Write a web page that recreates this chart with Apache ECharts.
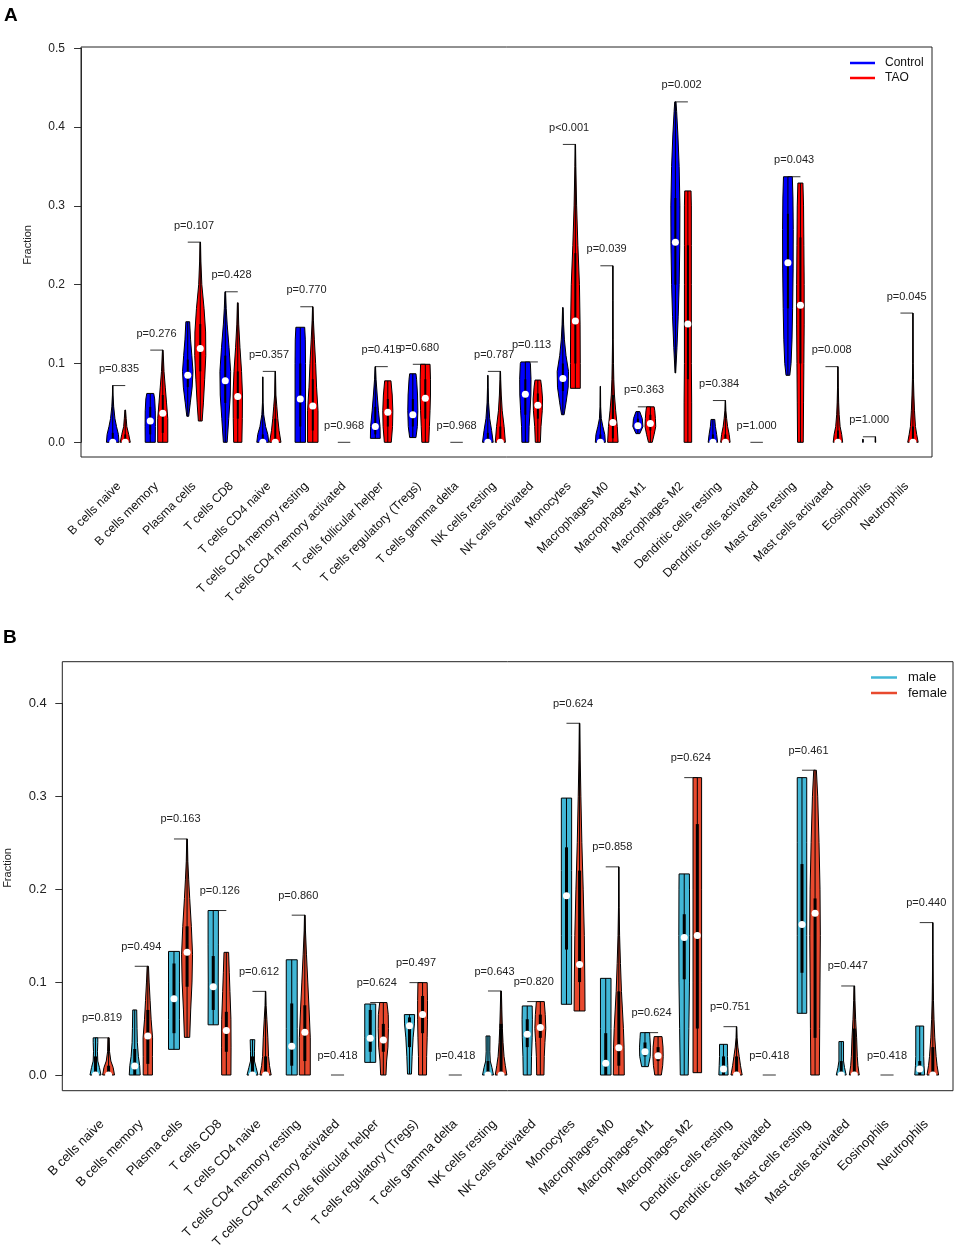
<!DOCTYPE html>
<html>
<head>
<meta charset="utf-8">
<script src="https://cdn.jsdelivr.net/npm/echarts@6/dist/echarts.min.js"></script>
<style>
  html, body { margin: 0; padding: 0; background: #fff; }
  #chart { width: 955px; height: 1248px; }
</style>
</head>
<body>
<div id="chart"></div>
<script>
var cellTypes = ['B cells naive', 'B cells memory', 'Plasma cells', 'T cells CD8', 'T cells CD4 naive',
    'T cells CD4 memory resting', 'T cells CD4 memory activated', 'T cells follicular helper',
    'T cells regulatory (Tregs)', 'T cells gamma delta', 'NK cells resting', 'NK cells activated',
    'Monocytes', 'Macrophages M0', 'Macrophages M1', 'Macrophages M2', 'Dendritic cells resting',
    'Dendritic cells activated', 'Mast cells resting', 'Mast cells activated', 'Eosinophils', 'Neutrophils'];

// panel A : p values
var pValuesA = ['p=0.835', 'p=0.276', 'p=0.107', 'p=0.428', 'p=0.357', 'p=0.770', 'p=0.968', 'p=0.415',
    'p=0.680', 'p=0.968', 'p=0.787', 'p=0.113', 'p<0.001', 'p=0.039', 'p=0.363', 'p=0.002', 'p=0.384',
    'p=1.000', 'p=0.043', 'p=0.008', 'p=1.000', 'p=0.045'];

// [min, q1, median, q3, max]
var controlStats = [
    [0, 0, 0, 0.012, 0.072], [0, 0.01, 0.027, 0.045, 0.062], [0.033, 0.07, 0.085, 0.105, 0.153],
    [0, 0.05, 0.078, 0.11, 0.191], [0, 0, 0, 0.01, 0.083], [0, 0.02, 0.055, 0.1, 0.146],
    [0, 0, 0, 0, 0], [0.005, 0.01, 0.02, 0.045, 0.096], [0.006, 0.02, 0.035, 0.055, 0.087],
    [0, 0, 0, 0, 0], [0, 0, 0, 0.012, 0.085], [0, 0.035, 0.061, 0.08, 0.102],
    [0.035, 0.065, 0.081, 0.1, 0.171], [0, 0, 0, 0.01, 0.071], [0.011, 0.016, 0.021, 0.03, 0.039],
    [0.088, 0.2, 0.254, 0.31, 0.432], [0, 0, 0, 0.01, 0.029], [0, 0, 0, 0, 0],
    [0.085, 0.17, 0.228, 0.29, 0.337], [0, 0, 0, 0, 0], [0, 0, 0, 0, 0.004], [0, 0, 0, 0, 0]
];
var taoStats = [
    [0, 0, 0, 0.01, 0.041], [0, 0.012, 0.037, 0.06, 0.117], [0.027, 0.09, 0.119, 0.15, 0.254],
    [0, 0.03, 0.058, 0.09, 0.177], [0, 0, 0, 0.03, 0.09], [0, 0.015, 0.046, 0.08, 0.172],
    [0, 0, 0, 0, 0], [0, 0.02, 0.038, 0.055, 0.078], [0, 0.03, 0.056, 0.08, 0.099],
    [0, 0, 0, 0, 0], [0, 0, 0, 0.02, 0.09], [0, 0.03, 0.047, 0.062, 0.079],
    [0.0685, 0.1, 0.154, 0.24, 0.378], [0, 0.005, 0.025, 0.06, 0.224], [0, 0.015, 0.024, 0.035, 0.045],
    [0, 0.08, 0.15, 0.25, 0.319], [0, 0, 0, 0.01, 0.053], [0, 0, 0, 0, 0],
    [0, 0.1, 0.174, 0.26, 0.329], [0, 0, 0, 0.015, 0.096], [0, 0, 0, 0, 0.007], [0, 0, 0, 0.02, 0.164]
];

// violin outlines: [value, relative width]
var controlShape = [
    [[0, 1.0], [0.01, 0.9], [0.02, 0.6], [0.03, 0.35], [0.045, 0.15], [0.06, 0.05], [0.072, 0.02]],
    [[0, 0.8], [0.02, 0.82], [0.04, 0.8], [0.055, 0.7], [0.062, 0.55]],
    [[0.033, 0.15], [0.05, 0.4], [0.07, 0.7], [0.09, 0.83], [0.11, 0.65], [0.13, 0.45], [0.153, 0.3]],
    [[0, 0.3], [0.03, 0.55], [0.06, 0.8], [0.09, 0.85], [0.12, 0.6], [0.15, 0.3], [0.17, 0.15], [0.191, 0.05]],
    [[0, 0.95], [0.01, 0.8], [0.02, 0.45], [0.035, 0.15], [0.05, 0.05], [0.083, 0.02]],
    [[0, 0.83], [0.05, 0.83], [0.1, 0.83], [0.13, 0.8], [0.146, 0.7]],
    [],
    [[0.005, 0.78], [0.02, 0.75], [0.04, 0.5], [0.06, 0.3], [0.08, 0.12], [0.096, 0.04]],
    [[0.006, 0.5], [0.02, 0.72], [0.04, 0.8], [0.06, 0.75], [0.08, 0.6], [0.087, 0.5]],
    [],
    [[0, 0.85], [0.015, 0.6], [0.03, 0.3], [0.05, 0.12], [0.07, 0.05], [0.085, 0.02]],
    [[0, 0.55], [0.02, 0.6], [0.04, 0.75], [0.06, 0.88], [0.08, 0.9], [0.1, 0.8], [0.102, 0.7]],
    [[0.035, 0.2], [0.05, 0.5], [0.07, 0.85], [0.09, 0.9], [0.11, 0.5], [0.13, 0.25], [0.15, 0.12], [0.171, 0.04]],
    [[0, 0.8], [0.01, 0.7], [0.02, 0.4], [0.03, 0.15], [0.045, 0.05], [0.071, 0.02]],
    [[0.011, 0.3], [0.02, 0.8], [0.03, 0.7], [0.039, 0.3]],
    [[0.088, 0.05], [0.12, 0.25], [0.16, 0.45], [0.2, 0.6], [0.25, 0.7], [0.3, 0.72], [0.35, 0.6], [0.39, 0.4], [0.42, 0.2], [0.432, 0.1]],
    [[0, 0.75], [0.01, 0.6], [0.02, 0.4], [0.029, 0.3]],
    [],
    [[0.085, 0.3], [0.1, 0.5], [0.13, 0.65], [0.17, 0.75], [0.22, 0.83], [0.27, 0.85], [0.31, 0.8], [0.337, 0.7]],
    [],
    [[0, 0.05], [0.004, 0.02]],
    []
];
var taoShape = [
    [[0, 0.8], [0.01, 0.55], [0.02, 0.25], [0.03, 0.15], [0.041, 0.05]],
    [[0, 0.8], [0.03, 0.8], [0.05, 0.6], [0.07, 0.4], [0.09, 0.2], [0.117, 0.05]],
    [[0.027, 0.3], [0.05, 0.5], [0.08, 0.7], [0.11, 0.88], [0.14, 0.85], [0.17, 0.6], [0.2, 0.25], [0.23, 0.1], [0.254, 0.04]],
    [[0, 0.65], [0.03, 0.72], [0.06, 0.75], [0.09, 0.6], [0.12, 0.35], [0.15, 0.15], [0.177, 0.06]],
    [[0, 0.9], [0.015, 0.6], [0.03, 0.4], [0.045, 0.25], [0.06, 0.1], [0.09, 0.03]],
    [[0, 0.83], [0.04, 0.83], [0.07, 0.6], [0.1, 0.45], [0.13, 0.25], [0.155, 0.1], [0.172, 0.04]],
    [],
    [[0, 0.55], [0.02, 0.75], [0.04, 0.8], [0.06, 0.7], [0.078, 0.5]],
    [[0, 0.55], [0.02, 0.65], [0.04, 0.75], [0.06, 0.82], [0.08, 0.82], [0.099, 0.75]],
    [],
    [[0, 0.8], [0.02, 0.6], [0.04, 0.3], [0.06, 0.15], [0.08, 0.06], [0.09, 0.03]],
    [[0, 0.4], [0.02, 0.5], [0.04, 0.7], [0.055, 0.75], [0.07, 0.6], [0.079, 0.45]],
    [[0.0685, 0.78], [0.1, 0.78], [0.15, 0.75], [0.2, 0.65], [0.25, 0.4], [0.3, 0.2], [0.35, 0.08], [0.378, 0.03]],
    [[0, 0.83], [0.02, 0.7], [0.04, 0.45], [0.06, 0.25], [0.08, 0.15], [0.1, 0.1], [0.13, 0.05], [0.18, 0.02], [0.224, 0.01]],
    [[0, 0.3], [0.01, 0.6], [0.02, 0.85], [0.03, 0.8], [0.04, 0.7], [0.045, 0.6]],
    [[0, 0.6], [0.05, 0.6], [0.1, 0.55], [0.15, 0.55], [0.2, 0.55], [0.25, 0.55], [0.3, 0.55], [0.319, 0.5]],
    [[0, 0.75], [0.01, 0.6], [0.02, 0.35], [0.03, 0.2], [0.04, 0.08], [0.053, 0.02]],
    [],
    [[0, 0.45], [0.05, 0.5], [0.1, 0.55], [0.15, 0.6], [0.2, 0.6], [0.25, 0.55], [0.3, 0.5], [0.329, 0.4]],
    [[0, 0.75], [0.01, 0.6], [0.02, 0.35], [0.035, 0.2], [0.05, 0.12], [0.07, 0.06], [0.096, 0.02]],
    [[0, 0.05], [0.007, 0.02]],
    [[0, 0.83], [0.01, 0.6], [0.02, 0.4], [0.04, 0.25], [0.06, 0.15], [0.08, 0.08], [0.1, 0.04], [0.164, 0.01]]
];

// panel B
var pValuesB = ['p=0.819', 'p=0.494', 'p=0.163', 'p=0.126', 'p=0.612', 'p=0.860', 'p=0.418', 'p=0.624',
    'p=0.497', 'p=0.418', 'p=0.643', 'p=0.820', 'p=0.624', 'p=0.858', 'p=0.624', 'p=0.624', 'p=0.751',
    'p=0.418', 'p=0.461', 'p=0.447', 'p=0.418', 'p=0.440'];

var maleStats = [
    [0, 0, 0, 0.02, 0.040], [0, 0, 0.0097, 0.028, 0.070], [0.0276, 0.045, 0.082, 0.12, 0.133],
    [0.054, 0.07, 0.095, 0.128, 0.177], [0, 0, 0, 0.02, 0.038], [0, 0.01, 0.031, 0.077, 0.124],
    [0, 0, 0, 0, 0], [0.0136, 0.025, 0.0395, 0.07, 0.0764], [0.001, 0.03, 0.053, 0.062, 0.065],
    [0, 0, 0, 0, 0], [0, 0, 0, 0.015, 0.042], [0, 0.03, 0.0438, 0.06, 0.0743],
    [0.0761, 0.135, 0.193, 0.245, 0.298], [0, 0, 0.0126, 0.045, 0.104], [0.009, 0.02, 0.025, 0.035, 0.0456],
    [0, 0.103, 0.148, 0.173, 0.2164], [0, 0, 0.0065, 0.02, 0.033], [0, 0, 0, 0, 0],
    [0.0664, 0.11, 0.162, 0.227, 0.32], [0, 0, 0, 0.015, 0.036], [0, 0, 0, 0, 0], [0, 0, 0.0065, 0.015, 0.0527]
];
var femaleStats = [
    [0, 0, 0, 0.01, 0.040], [0, 0.012, 0.042, 0.07, 0.117], [0.0405, 0.095, 0.132, 0.16, 0.254],
    [0, 0.025, 0.048, 0.068, 0.132], [0, 0, 0, 0.02, 0.09], [0, 0.015, 0.046, 0.075, 0.172],
    [0, 0, 0, 0, 0], [0, 0.025, 0.0377, 0.055, 0.078], [0, 0.045, 0.065, 0.085, 0.0994],
    [0, 0, 0, 0, 0], [0, 0, 0, 0.055, 0.0904], [0, 0.04, 0.051, 0.065, 0.079],
    [0.0689, 0.1, 0.119, 0.22, 0.3785], [0, 0.01, 0.0294, 0.09, 0.224], [0, 0.015, 0.0208, 0.03, 0.0413],
    [0.0025, 0.05, 0.15, 0.27, 0.32], [0, 0, 0, 0.02, 0.052], [0, 0, 0, 0, 0],
    [0, 0.04, 0.174, 0.19, 0.328], [0, 0, 0, 0.05, 0.0958], [0, 0, 0, 0, 0], [0, 0, 0, 0.03, 0.164]
];

var maleShape = [
    [[0, 0.83], [0.008, 0.6], [0.015, 0.35], [0.025, 0.3], [0.035, 0.35], [0.04, 0.35]],
    [[0, 0.83], [0.01, 0.75], [0.02, 0.55], [0.035, 0.4], [0.05, 0.35], [0.07, 0.3]],
    [[0.0276, 0.83], [0.06, 0.83], [0.1, 0.83], [0.133, 0.83]],
    [[0.054, 0.78], [0.1, 0.76], [0.14, 0.78], [0.177, 0.78]],
    [[0, 0.83], [0.008, 0.55], [0.015, 0.3], [0.025, 0.3], [0.038, 0.35]],
    [[0, 0.83], [0.05, 0.83], [0.1, 0.83], [0.124, 0.83]],
    [],
    [[0.0136, 0.83], [0.04, 0.83], [0.0764, 0.83]],
    [[0.001, 0.3], [0.02, 0.4], [0.04, 0.55], [0.055, 0.75], [0.065, 0.78]],
    [],
    [[0, 0.83], [0.008, 0.6], [0.015, 0.35], [0.025, 0.28], [0.042, 0.3]],
    [[0, 0.6], [0.02, 0.65], [0.04, 0.75], [0.06, 0.78], [0.0743, 0.75]],
    [[0.0761, 0.78], [0.15, 0.78], [0.22, 0.78], [0.298, 0.78]],
    [[0, 0.8], [0.05, 0.8], [0.104, 0.8]],
    [[0.009, 0.5], [0.02, 0.8], [0.03, 0.83], [0.04, 0.75], [0.0456, 0.7]],
    [[0, 0.6], [0.05, 0.7], [0.1, 0.8], [0.15, 0.82], [0.2, 0.8], [0.2164, 0.78]],
    [[0, 0.7], [0.01, 0.65], [0.02, 0.6], [0.033, 0.6]],
    [],
    [[0.0664, 0.72], [0.15, 0.72], [0.25, 0.72], [0.32, 0.72]],
    [[0, 0.75], [0.008, 0.5], [0.015, 0.35], [0.036, 0.35]],
    [],
    [[0, 0.75], [0.01, 0.65], [0.02, 0.6], [0.0527, 0.6]]
];
var femaleShape = [
    [[0, 0.9], [0.008, 0.7], [0.015, 0.35], [0.025, 0.15], [0.04, 0.1]],
    [[0, 0.7], [0.02, 0.7], [0.04, 0.72], [0.06, 0.5], [0.08, 0.35], [0.1, 0.2], [0.117, 0.1]],
    [[0.0405, 0.4], [0.07, 0.55], [0.1, 0.75], [0.13, 0.83], [0.16, 0.65], [0.19, 0.4], [0.21, 0.25], [0.23, 0.12], [0.254, 0.05]],
    [[0, 0.7], [0.03, 0.72], [0.06, 0.7], [0.09, 0.55], [0.11, 0.45], [0.132, 0.35]],
    [[0, 0.85], [0.01, 0.6], [0.02, 0.45], [0.04, 0.35], [0.06, 0.2], [0.075, 0.08], [0.09, 0.03]],
    [[0, 0.83], [0.04, 0.83], [0.07, 0.65], [0.1, 0.45], [0.13, 0.25], [0.155, 0.1], [0.172, 0.05]],
    [],
    [[0, 0.4], [0.015, 0.5], [0.03, 0.7], [0.05, 0.78], [0.065, 0.75], [0.078, 0.55]],
    [[0, 0.6], [0.02, 0.62], [0.04, 0.7], [0.06, 0.75], [0.08, 0.75], [0.0994, 0.7]],
    [],
    [[0, 0.88], [0.01, 0.65], [0.02, 0.45], [0.035, 0.3], [0.05, 0.2], [0.07, 0.12], [0.0904, 0.05]],
    [[0, 0.55], [0.02, 0.6], [0.035, 0.7], [0.05, 0.83], [0.065, 0.75], [0.079, 0.6]],
    [[0.0689, 0.83], [0.1, 0.8], [0.15, 0.72], [0.2, 0.55], [0.25, 0.35], [0.3, 0.2], [0.34, 0.1], [0.3785, 0.04]],
    [[0, 0.83], [0.03, 0.8], [0.05, 0.7], [0.07, 0.55], [0.09, 0.4], [0.12, 0.25], [0.15, 0.12], [0.18, 0.05], [0.224, 0.02]],
    [[0, 0.5], [0.01, 0.7], [0.02, 0.78], [0.03, 0.75], [0.0413, 0.6]],
    [[0.0025, 0.65], [0.1, 0.65], [0.2, 0.65], [0.32, 0.65]],
    [[0, 0.85], [0.01, 0.6], [0.02, 0.4], [0.03, 0.2], [0.04, 0.08], [0.052, 0.03]],
    [],
    [[0, 0.65], [0.05, 0.7], [0.1, 0.75], [0.15, 0.8], [0.2, 0.75], [0.25, 0.6], [0.3, 0.4], [0.328, 0.2]],
    [[0, 0.75], [0.01, 0.55], [0.02, 0.45], [0.04, 0.35], [0.06, 0.2], [0.08, 0.1], [0.0958, 0.05]],
    [],
    [[0, 0.88], [0.01, 0.65], [0.02, 0.5], [0.04, 0.3], [0.06, 0.18], [0.08, 0.1], [0.1, 0.06], [0.13, 0.03], [0.164, 0.02]]
];

var FONT = 'Liberation Sans, Arial, Helvetica, sans-serif';

function violinSeries(name, color, stats, shapes, side, idx, iqrWidth) {
    return {
        name: name,
        type: 'custom',
        xAxisIndex: idx,
        yAxisIndex: idx,
        itemStyle: { color: color },
        z: 3,
        data: stats.map(function (s, i) { return [i, s[4]]; }),
        renderItem: function (params, api) {
            var k = api.value(0);
            var s = stats[k];
            var shape = shapes[k];
            var band = api.size([1, 0])[0];
            var cx = api.coord([k, 0])[0] + side * band / 6;
            var scale = band * 0.168;
            var children = [];
            if (shape.length) {
                var right = shape.map(function (p) { return [cx + p[1] * scale, api.coord([k, p[0]])[1]]; });
                var left = shape.map(function (p) { return [cx - p[1] * scale, api.coord([k, p[0]])[1]]; }).reverse();
                children.push({
                    type: 'polygon',
                    shape: { points: right.concat(left) },
                    style: { fill: color, stroke: '#000', lineWidth: 1 }
                });
            }
            var yMin = api.coord([k, s[0]])[1], yMax = api.coord([k, s[4]])[1];
            var yQ1 = api.coord([k, s[1]])[1], yQ3 = api.coord([k, s[3]])[1];
            var yMed = api.coord([k, s[2]])[1];
            children.push({
                type: 'line',
                shape: { x1: cx, y1: yMin, x2: cx, y2: yMax },
                style: { stroke: '#000', lineWidth: 1 }
            });
            children.push({
                type: 'line',
                shape: { x1: cx, y1: yQ1, x2: cx, y2: yQ3 },
                style: { stroke: '#000', lineWidth: iqrWidth }
            });
            if (s[4] > 0.01) {
                children.push({
                    type: 'circle',
                    shape: { cx: cx, cy: yMed, r: 3.5 },
                    style: { fill: '#fff' }
                });
            }
            return { type: 'group', children: children };
        }
    };
}

function capSeries(pvals, a, b, idx) {
    return {
        type: 'custom',
        xAxisIndex: idx,
        yAxisIndex: idx,
        z: 2,
        silent: true,
        data: pvals.map(function (p, i) { return [i, Math.max(a[i][4], b[i][4])]; }),
        renderItem: function (params, api) {
            var k = api.value(0);
            var top = api.value(1);
            var band = api.size([1, 0])[0];
            var c = api.coord([k, top]);
            var t = api.coord([k, top + 0.021]);
            return {
                type: 'group',
                children: [{
                    type: 'line',
                    shape: { x1: c[0] - band / 6, y1: c[1], x2: c[0] + band / 6, y2: c[1] },
                    style: { stroke: '#333', lineWidth: 1 }
                }, {
                    type: 'text',
                    style: {
                        text: pvals[k], x: t[0], y: t[1], align: 'center', verticalAlign: 'middle',
                        fontSize: 11, fontFamily: FONT, fill: '#222'
                    }
                }]
            };
        }
    };
}

function yAxisCfg(idx, max, offset, fontSize, margin) {
    return {
        gridIndex: idx,
        type: 'value',
        min: 0,
        max: max,
        interval: 0.1,
        offset: offset,
        splitLine: { show: false },
        axisLine: { show: true, lineStyle: { color: '#333', width: 1 } },
        axisTick: { show: true, length: 7, lineStyle: { color: '#333' } },
        axisLabel: {
            margin: margin, fontSize: fontSize, fontFamily: FONT, color: '#222',
            formatter: function (v) { return v.toFixed(1); }
        }
    };
}

function xAxisCfg(idx, fontSize, margin) {
    return {
        gridIndex: idx,
        type: 'category',
        data: cellTypes,
        axisLine: { show: false },
        axisTick: { show: false },
        axisLabel: { interval: 0, rotate: 45, margin: margin, fontSize: fontSize, fontFamily: FONT, color: '#111' }
    };
}

var myChart = echarts.init(document.getElementById('chart'));
var option = {
    animation: false,
    backgroundColor: '#fff',
    grid: [
        { left: 100.24, width: 825.2, top: 48.3, height: 394, outerBoundsMode: 'none' },
        { left: 82.4, width: 863.5, top: 703.3, height: 371.7, outerBoundsMode: 'none' }
    ],
    xAxis: [xAxisCfg(0, 12.3, 42), xAxisCfg(1, 13, 47)],
    yAxis: [yAxisCfg(0, 0.5, 19.2, 12, 16), yAxisCfg(1, 0.4, 20.1, 13, 15.6)],
    legend: [{
        data: ['Control', 'TAO'],
        orient: 'vertical',
        left: 850,
        top: 57,
        padding: 0,
        icon: 'rect',
        itemWidth: 25,
        itemHeight: 2.5,
        itemGap: 3,
        textStyle: { fontSize: 12, fontFamily: FONT, color: '#111', padding: [0, 0, 0, 5] }
    }, {
        data: ['male', 'female'],
        orient: 'vertical',
        left: 871,
        top: 671,
        padding: 0,
        icon: 'rect',
        itemWidth: 26,
        itemHeight: 2.5,
        itemGap: 2.5,
        textStyle: { fontSize: 13, fontFamily: FONT, color: '#111', padding: [0, 0, 0, 6] }
    }],
    graphic: [
        { type: 'rect', shape: { x: 81, y: 47, width: 851, height: 410 }, style: { fill: 'none', stroke: '#222', lineWidth: 1 }, z: 10 },
        { type: 'rect', shape: { x: 62.3, y: 661.7, width: 890.7, height: 429 }, style: { fill: 'none', stroke: '#222', lineWidth: 1 }, z: 10 },
        { type: 'text', left: 4, top: 6, style: { text: 'A', fontSize: 19, fontWeight: 'bold', fontFamily: FONT, fill: '#000' } },
        { type: 'text', left: 3, top: 628, style: { text: 'B', fontSize: 19, fontWeight: 'bold', fontFamily: FONT, fill: '#000' } },
        { type: 'text', x: 28, y: 245, rotation: Math.PI / 2, style: { text: 'Fraction', fontSize: 11, fontFamily: FONT, fill: '#222', align: 'center', verticalAlign: 'middle' } },
        { type: 'text', x: 8, y: 868, rotation: Math.PI / 2, style: { text: 'Fraction', fontSize: 11, fontFamily: FONT, fill: '#222', align: 'center', verticalAlign: 'middle' } }
    ],
    series: [
        capSeries(pValuesA, controlStats, taoStats, 0),
        violinSeries('Control', '#0000ff', controlStats, controlShape, -1, 0, 2),
        violinSeries('TAO', '#ff0000', taoStats, taoShape, 1, 0, 2),
        capSeries(pValuesB, maleStats, femaleStats, 1),
        violinSeries('male', '#42b7d6', maleStats, maleShape, -1, 1, 3),
        violinSeries('female', '#e8492e', femaleStats, femaleShape, 1, 1, 3)
    ]
};
myChart.setOption(option, true);
</script>
</body>
</html>
